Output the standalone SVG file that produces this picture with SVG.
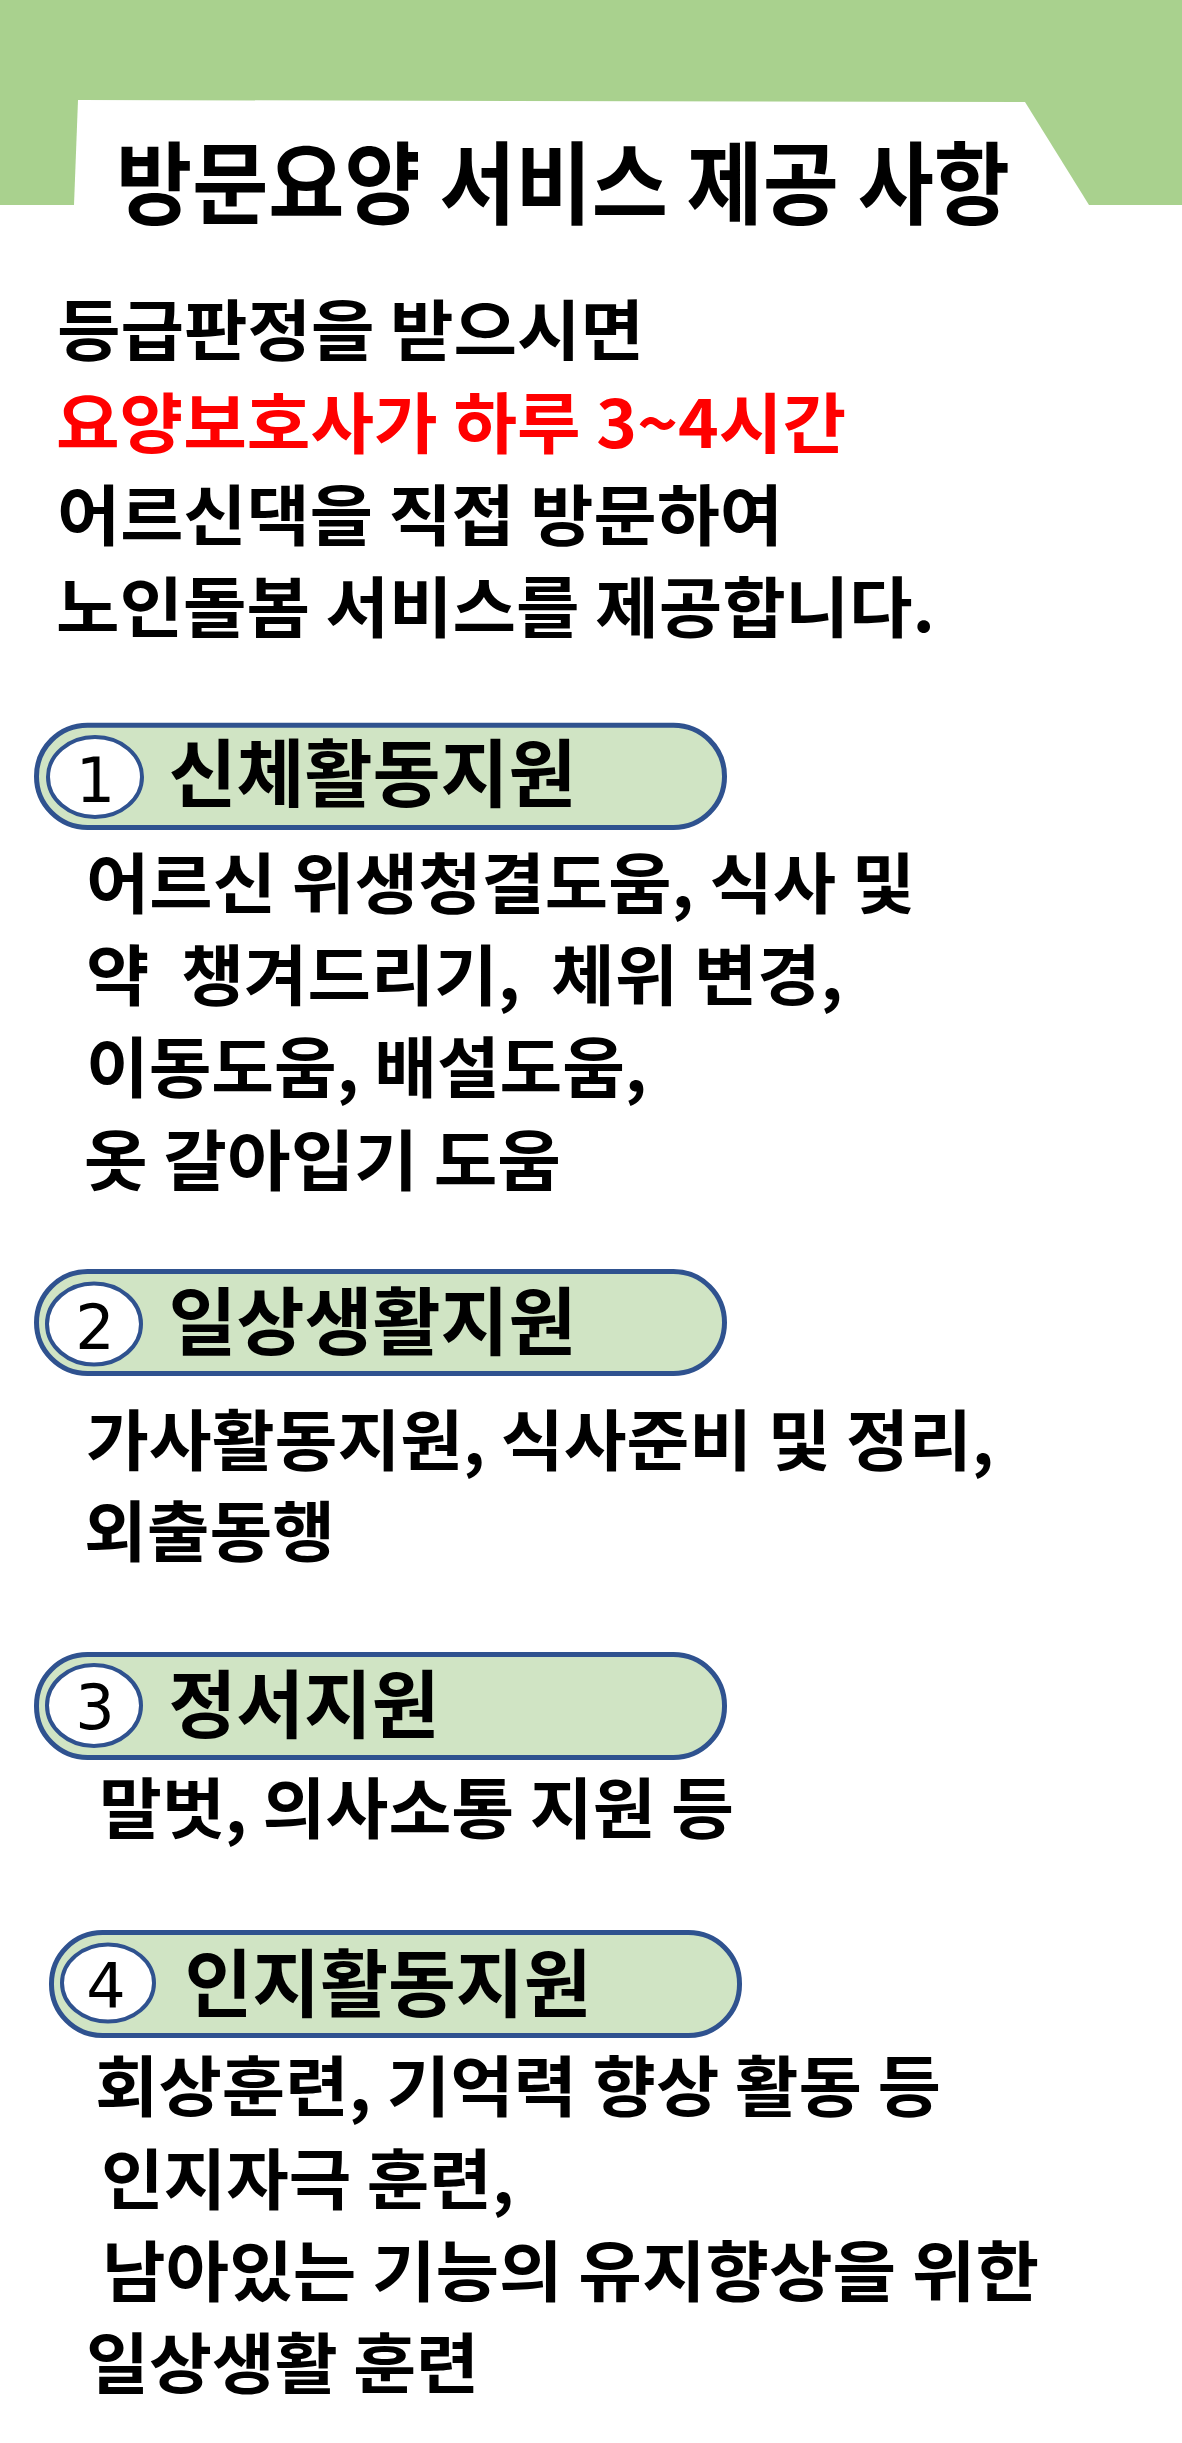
<svg xmlns="http://www.w3.org/2000/svg" width="1182" height="2443" viewBox="0 0 1182 2443">
<style>
.k{font-family:"Noto Sans CJK KR","Noto Sans CJK SC",sans-serif;font-weight:700;fill:#000}
.t{font-size:90px}
.b{font-size:66px}
.h{font-size:74px}
.red{fill:#ff0000}
.pill{fill:#d0e4c4;stroke:#2f528f;stroke-width:5}
.circ{fill:#fff;stroke:#2f528f;stroke-width:4}
.num{font-family:"DejaVu Sans",sans-serif;font-weight:400;font-size:62px;fill:#000;text-anchor:middle}
</style>
<rect x="0" y="0" width="1182" height="2443" fill="#fff"/>
<g id="header">
<rect x="0" y="0" width="1182" height="205" fill="#a9d18e"/>
<polygon points="78,100 1025,102 1089,205 74,205" fill="#fff"/>
<text class="k t" x="116" y="217" textLength="894" lengthAdjust="spacingAndGlyphs">방문요양 서비스 제공 사항</text>
</g>
<g id="intro">
<text class="k b" x="57" y="355" textLength="587" lengthAdjust="spacingAndGlyphs">등급판정을 받으시면</text>
<text class="k b red" x="56" y="448" textLength="790" lengthAdjust="spacingAndGlyphs">요양보호사가 하루 3~4시간</text>
<text class="k b" x="57" y="540" textLength="726" lengthAdjust="spacingAndGlyphs">어르신댁을 직접 방문하여</text>
<text class="k b" x="56" y="632" textLength="879" lengthAdjust="spacingAndGlyphs">노인돌봄 서비스를 제공합니다.</text>
</g>
<g id="node1">
<rect class="pill" x="36.5" y="725.2" width="688" height="102.3" rx="51"/>
<ellipse class="circ" cx="95" cy="777" rx="47" ry="40"/>
<text class="num" x="95.5" y="802">1</text>
<text class="k h" x="168.5" y="801" textLength="408" lengthAdjust="spacingAndGlyphs">신체활동지원</text>
</g>
<g id="desc1">
<text class="k b" x="86" y="908" textLength="829" lengthAdjust="spacingAndGlyphs">어르신 위생청결도움, 식사 및</text>
<text class="k b" x="86" y="1000" textLength="757" lengthAdjust="spacingAndGlyphs" xml:space="preserve">약  챙겨드리기,  체위 변경,</text>
<text class="k b" x="86" y="1092" textLength="561" lengthAdjust="spacingAndGlyphs">이동도움, 배설도움,</text>
<text class="k b" x="84" y="1185" textLength="477" lengthAdjust="spacingAndGlyphs">옷 갈아입기 도움</text>
</g>
<g id="node2">
<rect class="pill" x="36.5" y="1271.5" width="688" height="102" rx="51"/>
<ellipse class="circ" cx="94" cy="1324" rx="47" ry="40.5"/>
<text class="num" x="95" y="1349">2</text>
<text class="k h" x="168.5" y="1349" textLength="408" lengthAdjust="spacingAndGlyphs">일상생활지원</text>
</g>
<g id="desc2">
<text class="k b" x="86" y="1465" textLength="908" lengthAdjust="spacingAndGlyphs">가사활동지원, 식사준비 및 정리,</text>
<text class="k b" x="84" y="1556" textLength="251" lengthAdjust="spacingAndGlyphs">외출동행</text>
</g>
<g id="node3">
<rect class="pill" x="36.5" y="1654.5" width="688" height="103" rx="51"/>
<ellipse class="circ" cx="94" cy="1705.5" rx="47" ry="40.5"/>
<text class="num" x="95" y="1729">3</text>
<text class="k h" x="168.5" y="1732" textLength="271" lengthAdjust="spacingAndGlyphs">정서지원</text>
</g>
<g id="desc3">
<text class="k b" x="99" y="1833" textLength="635" lengthAdjust="spacingAndGlyphs">말벗, 의사소통 지원 등</text>
</g>
<g id="node4">
<rect class="pill" x="51.5" y="1932.5" width="688" height="103" rx="51"/>
<ellipse class="circ" cx="108" cy="1983" rx="46" ry="38.5"/>
<text class="num" x="106" y="2008">4</text>
<text class="k h" x="184.5" y="2011" textLength="407" lengthAdjust="spacingAndGlyphs">인지활동지원</text>
</g>
<g id="desc4">
<text class="k b" x="95" y="2111" textLength="846" lengthAdjust="spacingAndGlyphs">회상훈련, 기억력 향상 활동 등</text>
<text class="k b" x="101" y="2204" textLength="413" lengthAdjust="spacingAndGlyphs">인지자극 훈련,</text>
<text class="k b" x="102" y="2296" textLength="937" lengthAdjust="spacingAndGlyphs">남아있는 기능의 유지향상을 위한</text>
<text class="k b" x="86" y="2388" textLength="393" lengthAdjust="spacingAndGlyphs">일상생활 훈련</text>
</g>
</svg>
